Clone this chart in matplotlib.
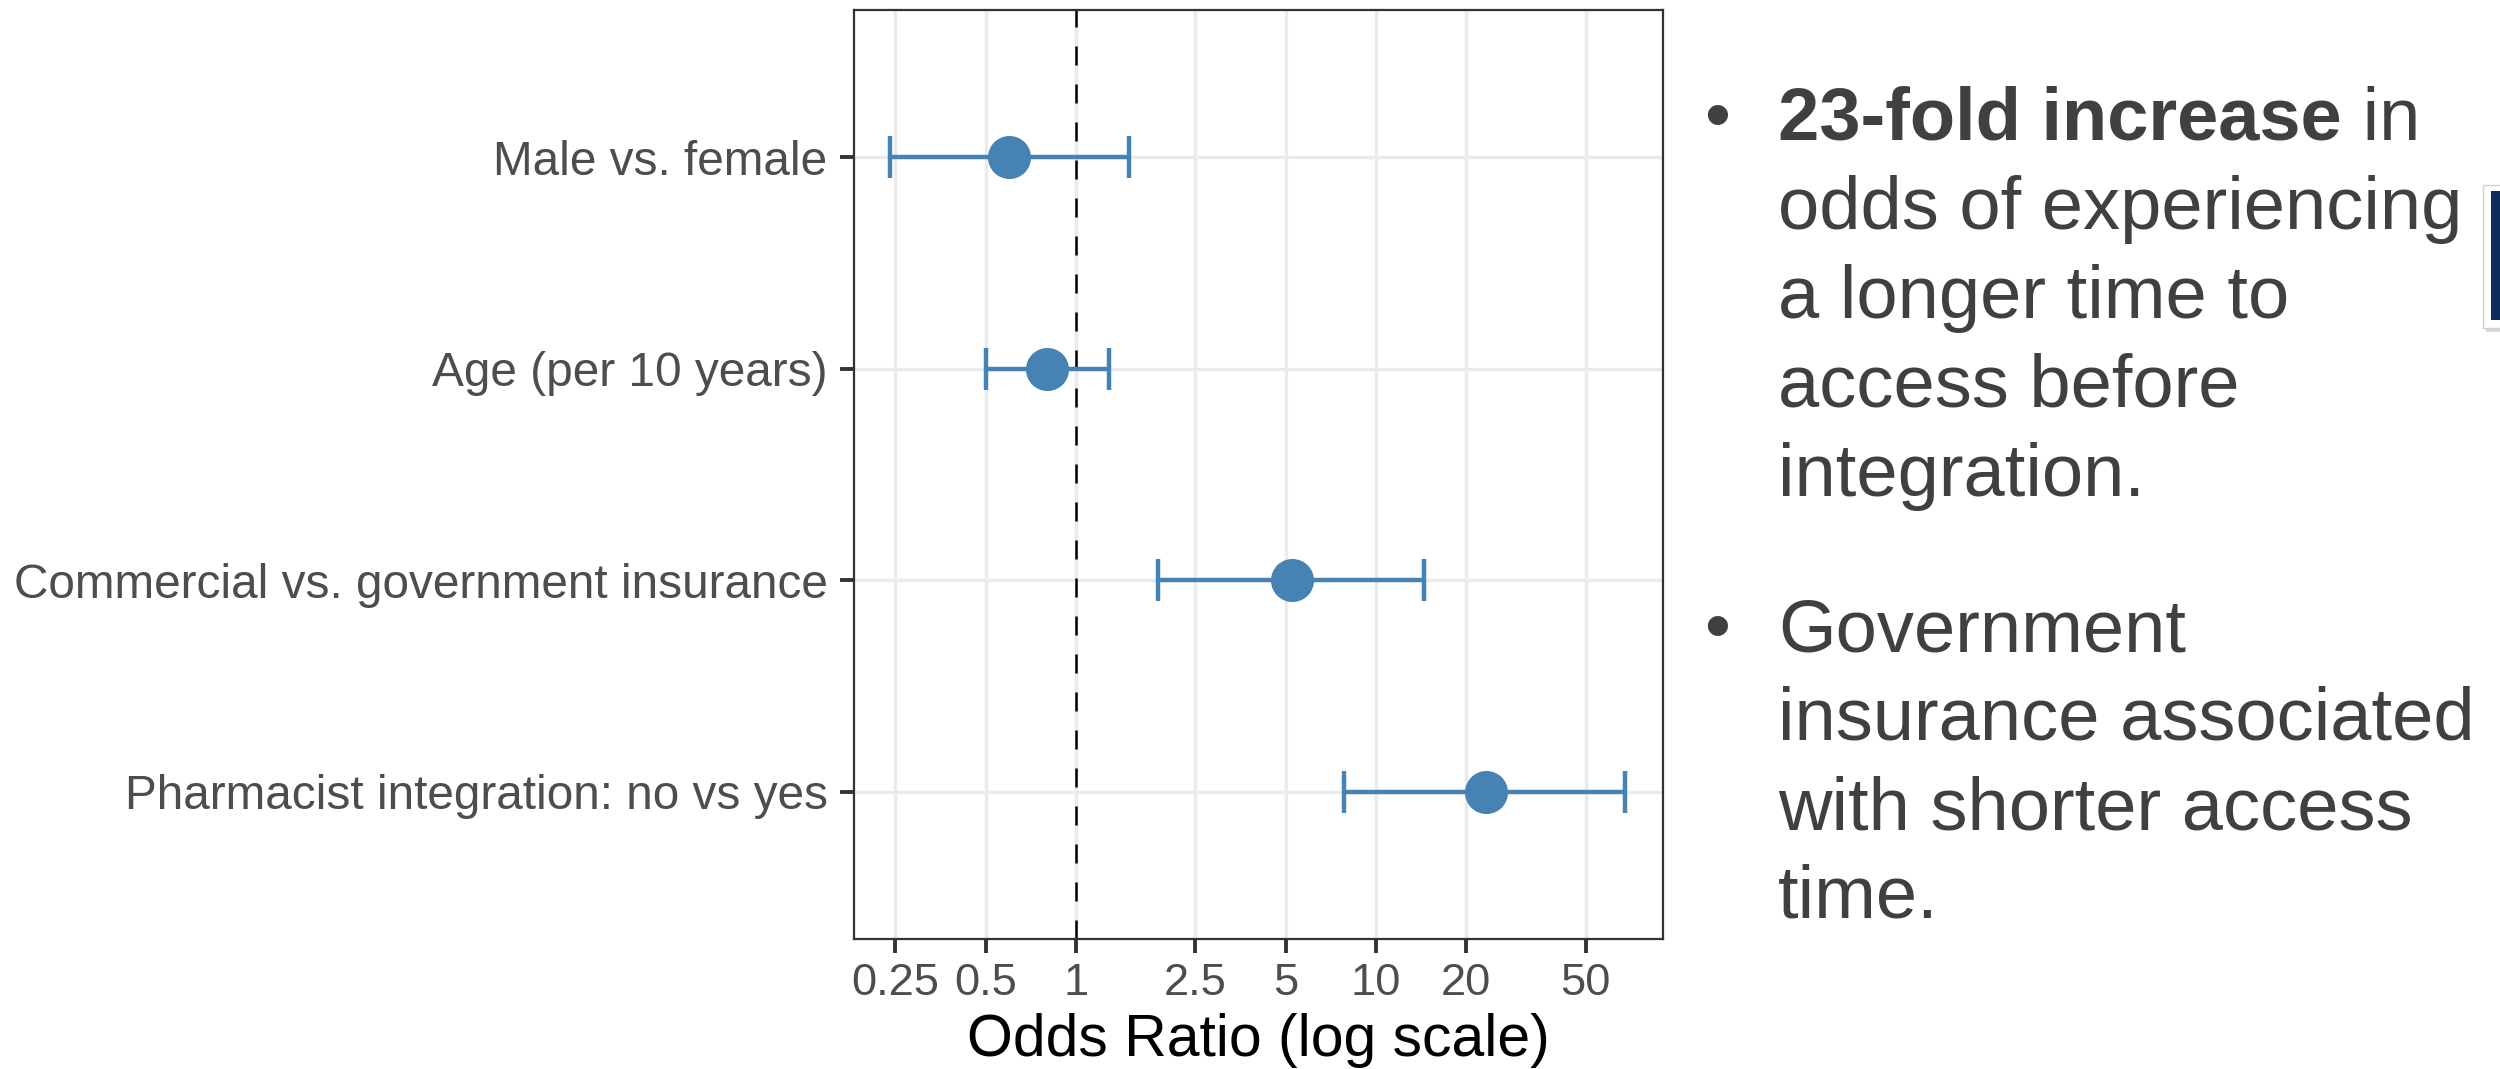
import matplotlib as mpl
from matplotlib import pyplot as plt
from matplotlib.patches import Rectangle
from matplotlib.ticker import NullLocator
import numpy as np

mpl.rc('font', family='Liberation Sans')

# Odds ratios with 95% CI
labels = ["Male vs. female",
          "Age (per 10 years)",
          "Commercial vs. government insurance",
          "Pharmacist integration: no vs yes"]
odds = [0.60, 0.80, 5.23, 23.2]
ci_low = [0.24, 0.50, 1.87, 7.85]
ci_high = [1.50, 1.29, 14.5, 67.8]

x_breaks = [0.25, 0.5, 1, 2.5, 5, 10, 20, 50]
x_break_labels = ["0.25", "0.5", "1", "2.5", "5", "10", "20", "50"]

bold_head = "23-fold increase"
bullet1 = [" in", "odds of experiencing", "a longer time to", "access before", "integration."]
bullet2 = ["Government", "insurance associated", "with shorter access", "time."]

W, H = 2500, 1069
blue = '#4682B4'
grid_col = '#EBEBEB'
txt_col = '#404040'

fig = plt.figure(figsize=(12.5, 5.345), dpi=200)
ax = fig.add_axes([854 / W, 1 - 939 / H, (1663 - 854) / W, (939 - 10) / H])

ypos = np.arange(len(labels))
ax.set_xscale('log')
ax.set_xlim(0.182, 90.5)
ax.set_ylim(len(labels) - 1 + 0.695, -0.695)

ax.xaxis.set_minor_locator(NullLocator())
ax.set_xticks(x_breaks)
ax.set_xticklabels(x_break_labels)
ax.set_yticks(ypos)
ax.set_yticklabels(labels)

ax.grid(True, which='major', color=grid_col, lw=1.2)
ax.set_axisbelow(True)

ax.axvline(1, color='black', lw=0.9, linestyle=(0, (7.6, 7.6)), zorder=1)

lo = np.array(odds) - np.array(ci_low)
hi = np.array(ci_high) - np.array(odds)
ax.errorbar(odds, ypos, xerr=[lo, hi], fmt='none', ecolor=blue,
            elinewidth=1.6, capsize=7.6, capthick=1.6, zorder=2)
ax.plot(odds, ypos, 'o', color=blue, ms=15.5, mew=0, zorder=3)

ax.tick_params(axis='both', length=5, width=1.4, color='#333333',
               labelcolor='#4D4D4D')
ax.tick_params(axis='x', pad=3.5, labelsize=16.3)
ax.tick_params(axis='y', pad=4.5, labelsize=17.2)
for sp in ax.spines.values():
    sp.set_color('#333333')
    sp.set_linewidth(0.8)

ax.set_xlabel("Odds Ratio (log scale)", fontsize=21.2, color='black', va='baseline')
ax.xaxis.set_label_coords(0.5, -(1056 - 939) / 929)

# bullet text on the right
fs = 26.7
xb, xt = 1717 / W, 1778 / W
step = 89
base_1 = 140
base_2 = 651

fig.text(xb, 1 - base_1 / H, "\u2022", fontsize=fs, color=txt_col, ha='center', va='baseline')
head = fig.text(xt, 1 - base_1 / H, bold_head, fontsize=fs, color=txt_col,
                fontweight='bold', va='baseline')
renderer = fig.canvas.get_renderer()
bb = head.get_window_extent(renderer)
fig.text(bb.x1 / W, 1 - base_1 / H, bullet1[0], fontsize=fs, color=txt_col, va='baseline')
for i, line in enumerate(bullet1[1:]):
    fig.text(xt, 1 - (base_1 + step * (i + 1)) / H, line, fontsize=fs, color=txt_col, va='baseline')

fig.text(xb, 1 - base_2 / H, "\u2022", fontsize=fs, color=txt_col, ha='center', va='baseline')
for i, line in enumerate(bullet2):
    fig.text(xt, 1 - (base_2 + step * i) / H, line, fontsize=fs, color=txt_col, va='baseline')

# partial slide element on the right edge
fig.add_artist(Rectangle((2486 / W, 1 - 332 / H), 20 / W, 143 / H, transform=fig.transFigure,
                         facecolor='#BBBBBB', edgecolor='none', alpha=0.6))
fig.add_artist(Rectangle((2483 / W, 1 - 328 / H), 20 / W, 143 / H, transform=fig.transFigure,
                         facecolor='white', edgecolor='#D0D0D0', lw=0.5))
fig.add_artist(Rectangle((2491 / W, 1 - 320 / H), 12 / W, 129 / H, transform=fig.transFigure,
                         facecolor='#0E2D5C', edgecolor='none'))

fig.savefig("out.png", dpi=200)
